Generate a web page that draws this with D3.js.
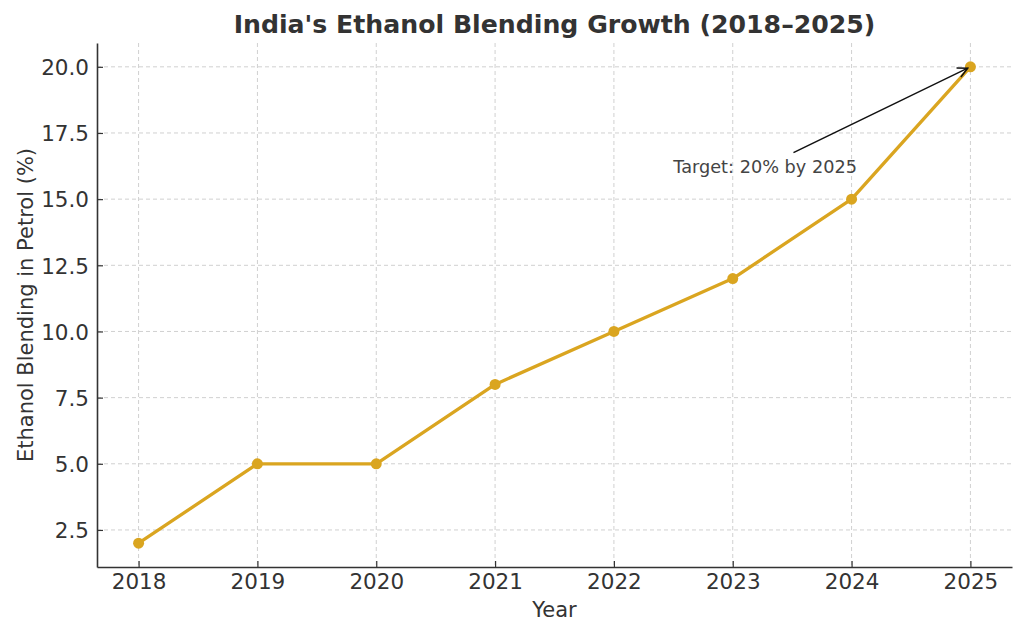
<!DOCTYPE html>
<html>
<head>
<meta charset="utf-8">
<script src="https://cdn.jsdelivr.net/npm/d3@7"></script>
<style>
  body { margin: 0; background: #fff; }
  text { font-family: "DejaVu Sans", sans-serif; }
</style>
</head>
<body>
<div id="chart"></div>
<script>
// data
const years = [2018, 2019, 2020, 2021, 2022, 2023, 2024, 2025];
const blending = [2, 5, 5, 8, 10, 12, 15, 20];
const yTicks = [2.5, 5.0, 7.5, 10.0, 12.5, 15.0, 17.5, 20.0];
const annotationText = "Target: 20% by 2025";
const annotationFrom = [2022.5, 16];
const annotationTo = [2025, 20];

const width = 1024, height = 636;
const margin = { top: 43, right: 12, bottom: 69, left: 97 };
const innerW = width - margin.left - margin.right;
const innerH = height - margin.top - margin.bottom;

const svg = d3.select("#chart")
    .append("svg")
    .attr("width", width)
    .attr("height", height);

const g = svg.append("g")
    .attr("transform", `translate(${margin.left},${margin.top})`);

// matplotlib style 5% margins
const x = d3.scaleLinear()
    .domain([2018 - 0.35, 2025 + 0.35])
    .range([0, innerW]);

const y = d3.scaleLinear()
    .domain([2 - 0.9, 20 + 0.9])
    .range([innerH, 0]);

//grid
g.append("g")
    .selectAll("line.vgrid")
    .data(years)
    .enter()
    .append("line")
    .attr("class", "vgrid")
    .attr("x1", d => x(d))
    .attr("x2", d => x(d))
    .attr("y1", 0)
    .attr("y2", innerH)
    .attr("stroke", "#d0d0d0")
    .attr("stroke-width", 1)
    .attr("stroke-dasharray", "4,3");

g.append("g")
    .selectAll("line.hgrid")
    .data(yTicks)
    .enter()
    .append("line")
    .attr("class", "hgrid")
    .attr("x1", 0)
    .attr("x2", innerW)
    .attr("y1", d => y(d))
    .attr("y2", d => y(d))
    .attr("stroke", "#d0d0d0")
    .attr("stroke-width", 1)
    .attr("stroke-dasharray", "4,3");

// axes, ticks pointing inward
let xAxis = d3.axisBottom(x)
    .tickValues(years)
    .tickFormat(d => d)
    .tickSizeInner(-6)
    .tickSizeOuter(0)
    .tickPadding(7);

let yAxis = d3.axisLeft(y)
    .tickValues(yTicks)
    .tickFormat(d3.format(".1f"))
    .tickSizeInner(-6)
    .tickSizeOuter(0)
    .tickPadding(8);

const xg = g.append("g")
    .attr("transform", `translate(0,${innerH})`)
    .call(xAxis);

const yg = g.append("g")
    .call(yAxis);

[xg, yg].forEach(ax => {
    ax.select(".domain").attr("stroke", "#333").attr("stroke-width", 1.6);
    ax.selectAll(".tick line").attr("stroke", "#333").attr("stroke-width", 1.2);
    ax.selectAll(".tick text")
        .attr("fill", "#333")
        .style("font-size", "21.5px")
        .style("font-family", "DejaVu Sans, sans-serif");
});
yg.selectAll(".tick text").attr("dy", "0.36em");

// line + markers
const pts = years.map((yr, i) => ({ year: yr, value: blending[i] }));

g.append("path")
    .datum(pts)
    .attr("fill", "none")
    .attr("stroke", "#DAA520")
    .attr("stroke-width", 3.3)
    .attr("stroke-linejoin", "round")
    .attr("d", d3.line().x(d => x(d.year)).y(d => y(d.value)));

g.selectAll("circle.dot")
    .data(pts)
    .enter()
    .append("circle")
    .attr("class", "dot")
    .attr("cx", d => x(d.year))
    .attr("cy", d => y(d.value))
    .attr("r", 5.5)
    .attr("fill", "#DAA520");

// annotation
svg.append("defs").append("marker")
    .attr("id", "arrowhead")
    .attr("viewBox", "0 0 12 12")
    .attr("refX", 11)
    .attr("refY", 6)
    .attr("markerWidth", 12)
    .attr("markerHeight", 12)
    .attr("markerUnits", "userSpaceOnUse")
    .attr("orient", "auto")
    .append("path")
    .attr("d", "M1,1 L11,6 L1,11")
    .attr("fill", "none")
    .attr("stroke", "#111")
    .attr("stroke-width", 1.5);

const annText = g.append("text")
    .attr("x", x(annotationFrom[0]))
    .attr("y", y(annotationFrom[1]))
    .attr("fill", "#444")
    .style("font-size", "17.7px")
    .text(annotationText);

const bb = annText.node().getBBox();
const cx = bb.x + bb.width / 2, cy = bb.y + bb.height / 2;
const tx = x(annotationTo[0]), ty = y(annotationTo[1]);
// start arrow where the line from the text centre leaves the text box
const dx = tx - cx, dy = ty - cy;
const pad = 4;
const sX = (bb.width / 2 + pad) / Math.abs(dx);
const sY = (bb.height / 2 + pad) / Math.abs(dy);
const s = Math.min(sX, sY);
const len = Math.hypot(dx, dy);
const shrink = 3 / len;

g.append("line")
    .attr("x1", cx + dx * s)
    .attr("y1", cy + dy * s)
    .attr("x2", tx - dx * shrink)
    .attr("y2", ty - dy * shrink)
    .attr("stroke", "#111")
    .attr("stroke-width", 1.5)
    .attr("marker-end", "url(#arrowhead)");

// titles
svg.append("text")
    .attr("x", margin.left + innerW / 2)
    .attr("y", 33)
    .attr("text-anchor", "middle")
    .attr("fill", "#333")
    .style("font-size", "25.2px")
    .style("font-weight", "bold")
    .text("India's Ethanol Blending Growth (2018–2025)");

svg.append("text")
    .attr("x", margin.left + innerW / 2)
    .attr("y", 617)
    .attr("text-anchor", "middle")
    .attr("fill", "#333")
    .style("font-size", "21px")
    .text("Year");

svg.append("text")
    .attr("transform", "rotate(-90)")
    .attr("x", -(margin.top + innerH / 2))
    .attr("y", 33)
    .attr("text-anchor", "middle")
    .attr("fill", "#333")
    .style("font-size", "21px")
    .text("Ethanol Blending in Petrol (%)");
</script>
</body>
</html>
